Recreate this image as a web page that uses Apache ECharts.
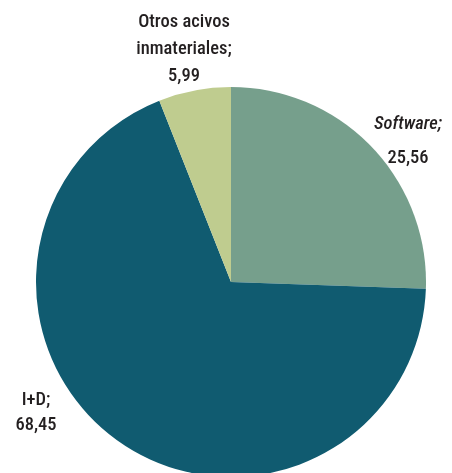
<!DOCTYPE html>
<html>
<head>
<meta charset="utf-8">
<script src="https://cdn.jsdelivr.net/npm/echarts@6/dist/echarts.min.js"></script>
<style>
  html, body { margin: 0; padding: 0; background: #ffffff; }
  #chart { width: 452px; height: 473px; }
</style>
</head>
<body>
<div id="chart"></div>
<script>
// Intangible assets breakdown (%)
const categories = ['Software', 'I+D', 'Otros acivos inmateriales'];
const labelNames = ['Software;', 'I+D;', 'Otros acivos\ninmateriales;'];
const values = [25.56, 68.45, 5.99];

const colors = ['#769f8c', '#105b70', '#bfcc8f'];
const FONT = "'Roboto Condensed', Roboto, 'Liberation Sans', sans-serif";
const WEIGHT = '500 condensed';

// label anchor (top centre of each label block) and line spacing
const labelAnchor = [[408, 107], [36, 388], [184, 9]];
const labelLineHeight = [34, 25, 27];
const labelItalic = [true, false, false];

const fmt = v => v.toFixed(2).replace('.', ',');

const data = categories.map((c, i) => ({
  name: c,
  value: values[i],
  itemStyle: { color: colors[i] },
  label: {
    formatter: () => {
      const nameLines = labelNames[i].split('\n').map(s => '{n|' + s + '}');
      return nameLines.join('\n') + '\n{v|' + fmt(values[i]) + '}';
    },
    rich: {
      n: {
        fontFamily: FONT, fontSize: 18.5, fontWeight: WEIGHT, color: '#231f20',
        fontStyle: labelItalic[i] ? 'italic' : 'normal',
        lineHeight: labelLineHeight[i], align: 'center'
      },
      v: {
        fontFamily: FONT, fontSize: 18.5, fontWeight: WEIGHT, color: '#231f20',
        lineHeight: labelLineHeight[i], align: 'center'
      }
    }
  }
}));

const chart = echarts.init(document.getElementById('chart'), null, { renderer: 'canvas' });
chart.setOption({
  backgroundColor: '#ffffff',
  animation: false,
  series: [{
    type: 'pie',
    center: [231, 282],
    radius: [0, 195],
    startAngle: 90,
    clockwise: true,
    avoidLabelOverlap: false,
    label: { show: true, position: 'outside', align: 'center' },
    labelLine: { show: false },
    labelLayout: params => {
      const a = labelAnchor[params.dataIndex];
      return { x: a[0], y: a[1], align: 'center', verticalAlign: 'top' };
    },
    itemStyle: { borderWidth: 0 },
    emphasis: { disabled: true },
    data: data
  }]
});
</script>
</body>
</html>
